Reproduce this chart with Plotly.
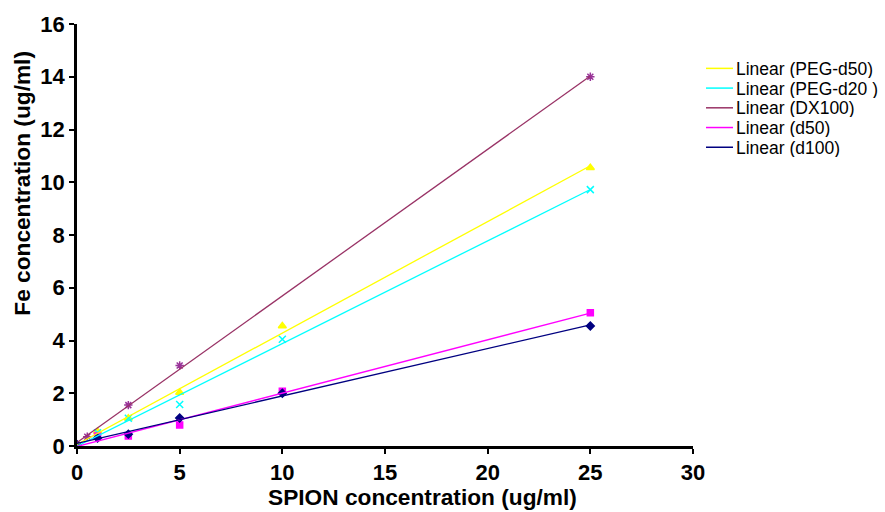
import numpy as np
import plotly.graph_objects as go

# Data
series_names = ["PEG-d50", "PEG-d20 ", "DX100", "d50", "d100"]
x_dx100 = [0, 0.5, 2.5, 5, 25]
y_dx100 = [0.05, 0.35, 1.55, 3.05, 14.0]
x_pegd50 = [0, 1, 2.5, 5, 10, 25]
y_pegd50 = [0.0, 0.55, 1.05, 2.03, 4.55, 10.55]
x_pegd20 = [0, 1, 2.5, 5, 10, 25]
y_pegd20 = [0.0, 0.5, 1.05, 1.57, 4.05, 9.72]
x_d50 = [0, 1, 2.5, 5, 10, 25]
y_d50 = [0.0, 0.38, 0.38, 0.8, 2.08, 5.05]
x_d100 = [0, 1, 2.5, 5, 10, 25]
y_d100 = [0.05, 0.3, 0.45, 1.06, 2.0, 4.55]

x_ticks = [0, 5, 10, 15, 20, 25, 30]
y_ticks = [0, 2, 4, 6, 8, 10, 12, 14, 16]

series = [
    ("PEG-d50", x_pegd50, y_pegd50, "#FFFF00", "triangle-up", "#FFFF00", 7),
    ("PEG-d20 ", x_pegd20, y_pegd20, "#00FFFF", "x-thin-open", "#00FFFF", 7),
    ("DX100", x_dx100, y_dx100, "#993366", "asterisk-open", "#993399", 7),
    ("d50", x_d50, y_d50, "#FF00FF", "square", "#FF00FF", 6),
    ("d100", x_d100, y_d100, "#000080", "diamond", "#000080", 6),
]

# plot-area geometry in pixels (for the hand-made legend and titles)
W, H = 885, 512
L, R, T, B = 77, 192, 18, 66
PW, PH = W - L - R, H - T - B


def px_x(px):
    return (px - L) / PW


def px_y(py):
    return (H - B - py) / PH


fig = go.Figure()

# markers
for name, xs, ys, lc, sym, mc, ms in series:
    fig.add_trace(go.Scatter(
        x=xs, y=ys, mode="markers", showlegend=False,
        marker=dict(symbol=sym, size=ms, color=mc,
                    line=dict(color=mc, width=1.5)),
    ))

# linear trendlines
for name, xs, ys, lc, sym, mc, ms in series:
    k, b = np.polyfit(xs, ys, 1)
    xl = np.array([min(xs), max(xs)])
    fig.add_trace(go.Scatter(
        x=xl, y=k * xl + b, mode="lines", name=f"Linear ({name})",
        showlegend=False, line=dict(color=lc, width=1.3),
    ))

# legend (drawn as shapes + text to match the reference's compact spacing)
annotations = []
shapes = []
row_top = 63
row_gap = 20
for i, (name, xs, ys, lc, sym, mc, ms) in enumerate(series):
    yy = px_y(row_top + i * row_gap)
    shapes.append(dict(type="line", xref="paper", yref="paper",
                       x0=px_x(706), x1=px_x(733), y0=yy, y1=yy,
                       line=dict(color=lc, width=1.5)))
    annotations.append(dict(xref="paper", yref="paper", x=px_x(734), y=yy,
                            xanchor="left", yanchor="middle", showarrow=False,
                            height=19, valign="middle",
                            text=f"Linear ({name})",
                            font=dict(family="Liberation Sans", size=17.5, color="black")))

titlefont = dict(family="Liberation Sans", size=22.7, color="black", weight="bold")
annotations.append(dict(xref="paper", yref="paper", x=px_x(422), y=px_y(498),
                        xanchor="center", yanchor="middle", showarrow=False,
                        text="SPION concentration (ug/ml)", font=titlefont))
annotations.append(dict(xref="paper", yref="paper", x=px_x(22), y=px_y(180),
                        xanchor="center", yanchor="middle", showarrow=False,
                        textangle=-90,
                        text="Fe concentration (ug/ml)", font=titlefont))

tickfont = dict(family="Liberation Sans", size=22, color="black", weight="bold")

fig.update_layout(
    width=W, height=H,
    margin=dict(l=L, r=R, t=T, b=B),
    plot_bgcolor="white", paper_bgcolor="white",
    showlegend=False,
    annotations=annotations,
    shapes=shapes,
    xaxis=dict(range=[0, 30], tickvals=x_ticks, showgrid=False, zeroline=False,
               showline=True, linecolor="black", linewidth=2.5,
               ticks="outside", ticklen=5, tickwidth=1.5, tickcolor="black",
               tickfont=tickfont),
    yaxis=dict(range=[0, 16], tickvals=y_ticks, showgrid=False, zeroline=False,
               showline=True, linecolor="black", linewidth=2.5,
               ticks="outside", ticklen=5, tickwidth=1.5, tickcolor="black",
               tickfont=tickfont),
)

fig.write_html("out.html")
